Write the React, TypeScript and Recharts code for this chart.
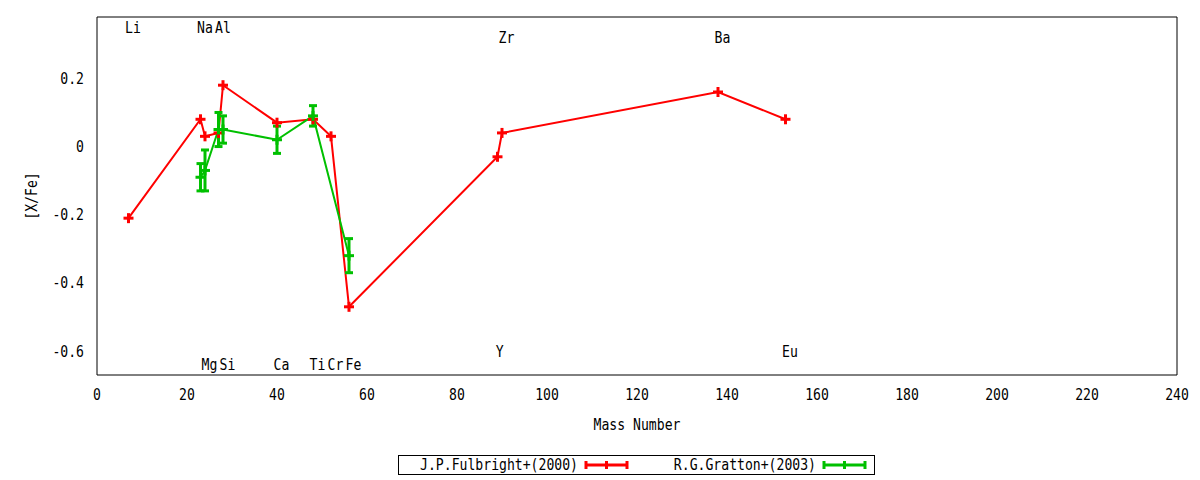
import { ComposedChart, Line, XAxis, YAxis, ErrorBar, Scatter } from "recharts";

const FONT = "'DejaVu Sans Mono', monospace";
const FONT_SIZE = 16;
const SQUEEZE = 0.82; // the reference font is a narrow, tall monospace

// J.P.Fulbright+(2000)
const fulbrightMass = [7, 23, 24, 27, 28, 40, 48, 52, 56, 89, 90, 138, 153];
const fulbrightXFe = [-0.21, 0.08, 0.03, 0.04, 0.18, 0.07, 0.08, 0.03, -0.47, -0.03, 0.04, 0.16, 0.08];

// R.G.Gratton+(2003)
const grattonMass = [23, 24, 27, 28, 40, 48, 56];
const grattonXFe = [-0.09, -0.07, 0.05, 0.05, 0.02, 0.09, -0.32];
const grattonErr = [0.04, 0.06, 0.05, 0.04, 0.04, 0.03, 0.05];

// element labels
const elementNames = ["Li", "Na", "Al", "Zr", "Ba", "Mg", "Si", "Ca", "Ti", "Cr", "Fe", "Y", "Eu"];
const elementLabelX = [8, 24, 28, 91, 139, 25, 29, 41, 49, 53, 57, 89.5, 154];
const elementLabelY = [0.35, 0.35, 0.35, 0.32, 0.32, -0.64, -0.64, -0.64, -0.64, -0.64, -0.64, -0.6, -0.6];

const xTicks = [0, 20, 40, 60, 80, 100, 120, 140, 160, 180, 200, 220, 240];
const yTicks = [-0.6, -0.4, -0.2, 0, 0.2];

const seriesNames = ["J.P.Fulbright+(2000)", "R.G.Gratton+(2003)"];
const seriesColors = ["#ff0000", "#00c000"];

const fulbrightRows = fulbrightMass.map((x, i) => ({ x, y: fulbrightXFe[i] }));
const grattonRows = grattonMass.map((x, i) => ({ x, y: grattonXFe[i], err: grattonErr[i] }));
const labelRows = elementNames.map((name, i) => ({ name, x: elementLabelX[i], y: elementLabelY[i] }));

// text drawn with its baseline at (x, y), squeezed horizontally
function CText({ x, y, anchor = "middle", rotate = 0, children }: any) {
  return (
    <text
      transform={`translate(${x},${y}) rotate(${rotate}) scale(${SQUEEZE},1)`}
      textAnchor={anchor}
      fontFamily={FONT}
      fontSize={FONT_SIZE}
      fill="#000"
    >
      {children}
    </text>
  );
}

function PlusDot(props: any) {
  const { cx, cy, color, index } = props;
  if (cx == null || cy == null) return <g key={index} />;
  return (
    <g key={index}>
      <line x1={cx - 5} x2={cx + 5} y1={cy} y2={cy} stroke={color} strokeWidth={3} />
      <line x1={cx} x2={cx} y1={cy - 5} y2={cy + 5} stroke={color} strokeWidth={3} />
    </g>
  );
}

function XTick(props: any) {
  return <CText x={props.x} y={props.y + 25}>{String(props.payload.value)}</CText>;
}

function YTick(props: any) {
  return (
    <CText x={props.x} y={props.y + 5.5} anchor="end">
      {String(props.payload.value)}
    </CText>
  );
}

function ElementText(props: any) {
  const { cx, cy, payload } = props;
  return <CText x={cx} y={cy + 5.5}>{payload.name}</CText>;
}

function XLabel(props: any) {
  const vb = props.viewBox || {};
  return <CText x={vb.x + vb.width / 2} y={vb.y + 55}>Mass Number</CText>;
}

function YLabel(props: any) {
  const vb = props.viewBox || {};
  return (
    <CText x={vb.x} y={vb.y + vb.height / 2} rotate={-90}>
      [X/Fe]
    </CText>
  );
}

function LegendBox() {
  return (
    <svg width={1200} height={480} style={{ position: "absolute", left: 0, top: 0, pointerEvents: "none" }}>
      <rect x={398.5} y={455.5} width={476} height={19} fill="none" stroke="#000" strokeWidth={1} />
      {seriesNames.map((name, i) => {
        const textEnd = 578 + 238 * i;
        const sx = textEnd + 7;
        const ex = sx + 43;
        const mx = (sx + ex) / 2;
        const c = seriesColors[i];
        return (
          <g key={name}>
            <CText x={textEnd} y={470} anchor="end">
              {name}
            </CText>
            <line x1={sx} x2={ex} y1={465} y2={465} stroke={c} strokeWidth={3} />
            <line x1={sx + 1} x2={sx + 1} y1={461} y2={469} stroke={c} strokeWidth={3} />
            <line x1={ex - 1} x2={ex - 1} y1={461} y2={469} stroke={c} strokeWidth={3} />
            <line x1={mx} x2={mx} y1={461} y2={469} stroke={c} strokeWidth={3} />
          </g>
        );
      })}
    </svg>
  );
}

export default function App() {
  return (
    <div style={{ position: "absolute", left: 0, top: 0, width: 1200, height: 480, background: "#fff" }}>
      <ComposedChart width={1200} height={480} margin={{ top: 17, right: 23, bottom: 45, left: 37 }}>
        <XAxis
          xAxisId="b"
          dataKey="x"
          type="number"
          domain={[0, 240]}
          ticks={xTicks}
          allowDataOverflow
          height={60}
          tickLine={false}
          tickSize={0}
          tickMargin={0}
          axisLine={{ stroke: "#000" }}
          tick={<XTick />}
          label={<XLabel />}
        />
        <XAxis xAxisId="bm" dataKey="x" type="number" domain={[0, 240]} ticks={xTicks} allowDataOverflow orientation="bottom" mirror tick={false} tickSize={6} tickLine={{ stroke: "#000" }} axisLine={false} />
        <XAxis xAxisId="t" dataKey="x" type="number" domain={[0, 240]} ticks={xTicks} allowDataOverflow orientation="top" mirror tick={false} tickSize={6} tickLine={{ stroke: "#000" }} axisLine={{ stroke: "#000" }} />
        <YAxis
          yAxisId="l"
          dataKey="y"
          type="number"
          domain={[-0.67, 0.38]}
          ticks={yTicks}
          allowDataOverflow
          width={60}
          tickLine={false}
          tickSize={0}
          tickMargin={13}
          axisLine={{ stroke: "#000" }}
          tick={<YTick />}
          label={<YLabel />}
        />
        <YAxis yAxisId="lm" type="number" domain={[-0.67, 0.38]} ticks={yTicks} allowDataOverflow orientation="left" mirror tick={false} tickSize={6} tickLine={{ stroke: "#000" }} axisLine={false} />
        <YAxis yAxisId="r" type="number" domain={[-0.67, 0.38]} ticks={yTicks} allowDataOverflow orientation="right" mirror tick={false} tickSize={6} tickLine={{ stroke: "#000" }} axisLine={{ stroke: "#000" }} />

        <Line
          data={fulbrightRows}
          dataKey="y"
          xAxisId="b"
          yAxisId="l"
          stroke={seriesColors[0]}
          strokeWidth={2}
          dot={(p: any) => <PlusDot key={p.index} {...p} color={seriesColors[0]} />}
          activeDot={false}
          isAnimationActive={false}
        />
        <Line
          data={grattonRows}
          dataKey="y"
          xAxisId="b"
          yAxisId="l"
          stroke={seriesColors[1]}
          strokeWidth={2}
          dot={(p: any) => <PlusDot key={p.index} {...p} color={seriesColors[1]} />}
          activeDot={false}
          isAnimationActive={false}
        >
          <ErrorBar dataKey="err" direction="y" width={4} strokeWidth={3} stroke={seriesColors[1]} isAnimationActive={false} />
        </Line>
        <Scatter data={labelRows} dataKey="y" xAxisId="b" yAxisId="l" shape={(p: any) => <ElementText {...p} />} isAnimationActive={false} />
      </ComposedChart>
      <LegendBox />
    </div>
  );
}
